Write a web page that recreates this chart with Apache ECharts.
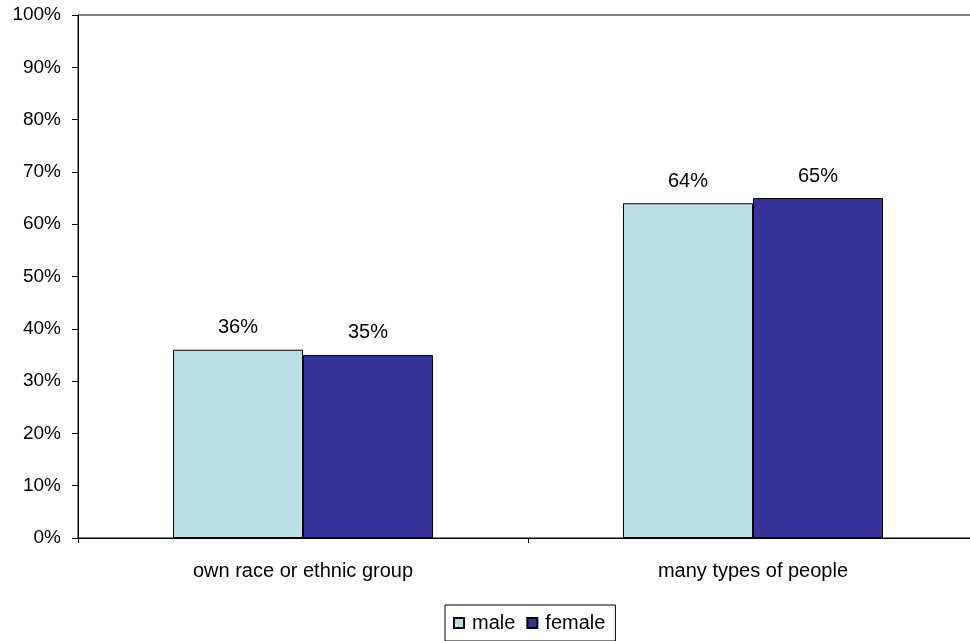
<!DOCTYPE html>
<html><head><meta charset="utf-8">
<script src="https://cdn.jsdelivr.net/npm/echarts@6/dist/echarts.min.js"></script>
<style>html,body{margin:0;padding:0;background:#fff;overflow:hidden}#c{width:1000px;height:660px}</style>
</head><body><div id="c"></div>
<script>
const categories = ['own race or ethnic group', 'many types of people'];
const maleValues = [36, 64];
const femaleValues = [35, 65];
const yTicks = [0, 10, 20, 30, 40, 50, 60, 70, 80, 90, 100];

const font = 'Liberation Sans, Arial, sans-serif';
const chart = echarts.init(document.getElementById('c'), null, {renderer: 'canvas'});
chart.setOption({
  animation: false,
  backgroundColor: '#fff',
  grid: {left: 78, top: 15, width: 900, height: 523, show: true, borderColor: '#000', borderWidth: 1, backgroundColor: 'transparent'},
  legend: {
    top: 605, left: 445,
    data: ['male', 'female'],
    itemWidth: 10, itemHeight: 10, itemGap: 11,
    borderColor: '#000', borderWidth: 1, padding: [8, 10, 8, 8],
    textStyle: {fontFamily: font, fontSize: 20, color: '#000', padding: [0, 0, 0, 3]},
    icon: 'rect'
  },
  xAxis: {
    type: 'category', data: categories,
    axisLine: {lineStyle: {color: '#000', width: 1}},
    axisTick: {show: true, length: 5, lineStyle: {color: '#000'}},
    axisLabel: {fontFamily: font, fontSize: 20, color: '#000', margin: 23}
  },
  yAxis: {
    type: 'value', min: 0, max: 100, interval: 10,
    axisLine: {show: true, lineStyle: {color: '#000', width: 1}},
    axisTick: {show: true, length: 6, lineStyle: {color: '#000'}},
    splitLine: {show: false},
    axisLabel: {fontFamily: font, fontSize: 19, color: '#000', margin: 17,
      formatter: v => yTicks.includes(v) ? v + '%' : ''}
  },
  series: [
    {name: 'male', type: 'bar', data: maleValues, barWidth: 130, barGap: '0%',
     itemStyle: {color: '#BBE0E3', borderColor: '#000', borderWidth: 1},
     label: {show: true, position: 'top', distance: 12, formatter: '{c}%', fontFamily: font, fontSize: 20, color: '#000'}},
    {name: 'female', type: 'bar', data: femaleValues, barWidth: 130,
     itemStyle: {color: '#333399', borderColor: '#000', borderWidth: 1},
     label: {show: true, position: 'top', distance: 12, formatter: '{c}%', fontFamily: font, fontSize: 20, color: '#000'}}
  ]
});
</script></body></html>
